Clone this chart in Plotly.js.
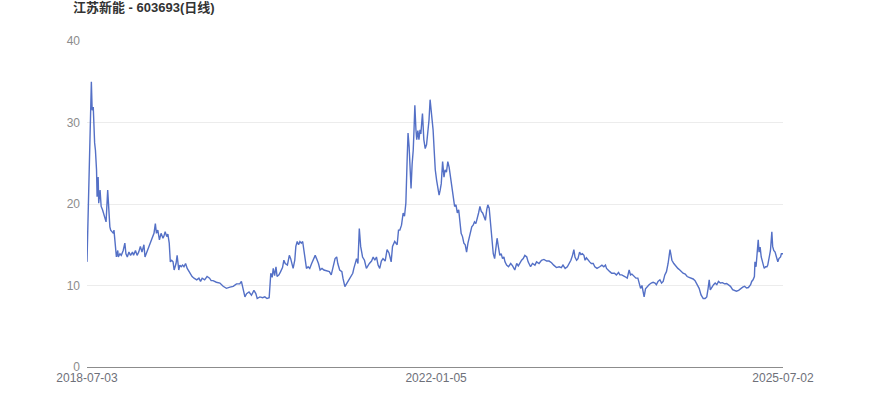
<!DOCTYPE html>
<html>
<head>
<meta charset="utf-8">
<script src="https://cdn.plot.ly/plotly-3.0.1.min.js"></script>
<style>html,body{margin:0;padding:0;background:#fff;}#chart{width:870px;height:417px;}</style>
</head>
<body>
<div id="chart"></div>
<script>
const chartTitle = '江苏新能 - 603693(日线)';
const tickDates = ['2018-07-03', '2022-01-05', '2025-07-02'];
const dates = [
'2018-07-03','2018-07-19','2018-07-22','2018-07-26','2018-07-31','2018-08-03','2018-08-07','2018-08-09','2018-08-13','2018-08-15',
'2018-08-20','2018-08-24','2018-08-29','2018-09-06','2018-09-11','2018-09-17','2018-09-20','2018-09-25','2018-09-28','2018-10-08',
'2018-10-10','2018-10-15','2018-10-19','2018-10-24','2018-10-26','2018-11-01','2018-11-06','2018-11-13','2018-11-19','2018-11-23',
'2018-11-28','2018-12-04','2018-12-10','2018-12-17','2018-12-21','2018-12-28','2019-01-03','2019-01-09','2019-01-15','2019-01-21',
'2019-01-28','2019-02-01','2019-02-11','2019-02-15','2019-02-21','2019-02-27','2019-03-06','2019-03-11','2019-03-15','2019-03-20',
'2019-03-26','2019-04-01','2019-04-08','2019-04-11','2019-04-16','2019-04-22','2019-04-26','2019-05-01','2019-05-05','2019-05-10',
'2019-05-15','2019-05-19','2019-05-26','2019-05-30','2019-06-05','2019-06-09','2019-06-14','2019-06-19','2019-06-24','2019-06-30',
'2019-07-06','2019-07-12','2019-07-18','2019-07-24','2019-07-31','2019-08-10','2019-08-18','2019-08-24','2019-08-30','2019-09-08',
'2019-09-17','2019-09-26','2019-10-02','2019-10-09','2019-10-21','2019-11-03','2019-11-15','2019-11-27','2019-12-10','2019-12-22',
'2020-01-03','2020-01-15','2020-01-21','2020-01-23','2020-02-03','2020-02-09','2020-02-18','2020-02-27','2020-03-07','2020-03-14',
'2020-03-19','2020-03-29','2020-04-08','2020-04-16','2020-04-24','2020-05-02','2020-05-08','2020-05-13','2020-05-17','2020-05-22',
'2020-05-27','2020-05-31','2020-06-07','2020-06-13','2020-06-20','2020-06-25','2020-06-30','2020-07-08','2020-07-15','2020-07-20',
'2020-07-25','2020-07-29','2020-08-04','2020-08-08','2020-08-13','2020-08-18','2020-08-23','2020-08-28','2020-09-02','2020-09-07',
'2020-09-11','2020-09-16','2020-09-22','2020-09-28','2020-10-05','2020-10-11','2020-10-18','2020-10-23','2020-10-30','2020-11-05',
'2020-11-12','2020-11-19','2020-11-29','2020-12-09','2020-12-16','2020-12-23','2020-12-30','2021-01-05','2021-01-09','2021-01-16',
'2021-01-24','2021-01-28','2021-02-04','2021-02-10','2021-02-18','2021-02-25','2021-03-05','2021-03-09','2021-03-14','2021-03-19',
'2021-03-24','2021-03-29','2021-04-03','2021-04-10','2021-04-17','2021-04-24','2021-05-05','2021-05-13','2021-05-19','2021-05-25',
'2021-05-31','2021-06-06','2021-06-12','2021-06-18','2021-06-24','2021-07-02','2021-07-09','2021-07-16','2021-07-24','2021-07-29',
'2021-08-06','2021-08-10','2021-08-15','2021-08-20','2021-08-25','2021-08-31','2021-09-06','2021-09-11','2021-09-16','2021-09-21',
'2021-09-24','2021-09-28','2021-10-02','2021-10-05','2021-10-09','2021-10-13','2021-10-16','2021-10-19','2021-10-23','2021-10-26',
'2021-10-30','2021-11-03','2021-11-07','2021-11-10','2021-11-14','2021-11-16','2021-11-21','2021-11-26','2021-12-01','2021-12-06',
'2021-12-10','2021-12-14','2021-12-18','2021-12-21','2021-12-25','2021-12-29','2022-01-02','2022-01-07','2022-01-12','2022-01-16',
'2022-01-20','2022-01-24','2022-01-29','2022-02-03','2022-02-07','2022-02-12','2022-02-17','2022-02-22','2022-02-27','2022-03-04',
'2022-03-09','2022-03-14','2022-03-19','2022-03-24','2022-03-29','2022-04-03','2022-04-07','2022-04-12','2022-04-17','2022-04-22',
'2022-04-27','2022-05-02','2022-05-07','2022-05-12','2022-05-16','2022-05-21','2022-05-26','2022-05-31','2022-06-05','2022-06-10',
'2022-06-15','2022-06-20','2022-06-25','2022-06-29','2022-07-05','2022-07-10','2022-07-14','2022-07-19','2022-07-24','2022-07-29',
'2022-08-03','2022-08-08','2022-08-12','2022-08-17','2022-08-22','2022-08-27','2022-09-01','2022-09-06','2022-09-11','2022-09-15',
'2022-09-21','2022-09-28','2022-10-06','2022-10-13','2022-10-21','2022-10-28','2022-11-03','2022-11-09','2022-11-15','2022-11-21',
'2022-11-27','2022-12-04','2022-12-09','2022-12-18','2022-12-25','2023-01-03','2023-01-09','2023-01-18','2023-01-27','2023-02-05',
'2023-02-15','2023-02-24','2023-03-05','2023-03-13','2023-03-23','2023-04-02','2023-04-10','2023-04-16','2023-04-24','2023-05-02',
'2023-05-09','2023-05-15','2023-05-21','2023-05-26','2023-05-30','2023-06-05','2023-06-10','2023-06-16','2023-06-21','2023-06-26',
'2023-07-02','2023-07-06','2023-07-11','2023-07-17','2023-07-23','2023-07-29','2023-08-05','2023-08-11','2023-08-19','2023-08-29',
'2023-09-06','2023-09-13','2023-09-19','2023-09-23','2023-09-28','2023-10-05','2023-10-12','2023-10-22','2023-10-29','2023-11-06',
'2023-11-11','2023-11-18','2023-11-29','2023-12-08','2023-12-15','2023-12-20','2023-12-25','2024-01-02','2024-01-09','2024-01-16',
'2024-01-21','2024-01-26','2024-01-31','2024-02-04','2024-02-08','2024-02-13','2024-02-19','2024-02-26','2024-03-05','2024-03-12',
'2024-03-19','2024-03-24','2024-03-30','2024-04-06','2024-04-12','2024-04-18','2024-04-24','2024-04-30','2024-05-06','2024-05-10',
'2024-05-13','2024-05-17','2024-05-20','2024-05-27','2024-06-04','2024-06-11','2024-06-18','2024-06-24','2024-06-30','2024-07-08',
'2024-07-15','2024-07-22','2024-07-30','2024-08-06','2024-08-13','2024-08-20','2024-08-28','2024-09-04','2024-09-12','2024-09-19',
'2024-09-25','2024-09-30','2024-10-04','2024-10-08','2024-10-14','2024-10-20','2024-10-26','2024-11-01','2024-11-07','2024-11-14',
'2024-11-22','2024-11-29','2024-12-07','2024-12-14','2024-12-21','2024-12-29','2025-01-05','2025-01-12','2025-01-20','2025-01-27',
'2025-02-04','2025-02-11','2025-02-18','2025-02-25','2025-03-05','2025-03-09','2025-03-14','2025-03-19','2025-03-21','2025-03-25',
'2025-03-29','2025-04-02','2025-04-05','2025-04-09','2025-04-13','2025-04-16','2025-04-20','2025-04-24','2025-04-29','2025-05-04',
'2025-05-07','2025-05-12','2025-05-17','2025-05-22','2025-05-25','2025-05-29','2025-06-03','2025-06-08','2025-06-13','2025-06-17',
'2025-06-23','2025-06-26','2025-07-02'
];
const closePrices = [
12.9,35.0,31.5,31.9,27.5,26.6,24.2,20.9,23.3,20.1,
21.7,19.7,19.3,18.3,17.8,21.7,19.3,17.2,16.8,16.4,
16.8,14.4,13.5,14.3,13.5,13.9,13.7,14.3,15.2,13.9,
13.5,14.1,13.7,14.1,13.7,14.3,13.7,14.1,14.8,14.1,
15.0,13.5,14.3,14.8,15.2,15.8,16.4,17.6,16.4,16.8,
15.6,16.4,15.8,16.0,16.6,16.0,16.3,15.2,12.9,13.1,
12.9,11.9,12.7,13.7,11.9,12.5,12.3,12.5,12.3,12.7,
12.1,11.7,11.5,11.1,10.9,10.7,10.9,10.5,10.9,10.7,
11.1,10.9,10.6,10.6,10.4,10.3,9.9,9.65,9.8,9.9,
10.2,10.2,10.5,10.2,8.6,9.0,9.2,8.8,9.4,9.0,
8.4,8.6,8.5,8.6,8.4,8.5,11.5,11.0,12.1,11.2,
12.3,11.1,11.3,11.7,12.2,13.1,12.7,12.5,13.7,13.3,
12.7,12.1,13.1,14.8,15.4,15.0,15.4,15.2,15.4,14.4,
13.1,12.1,12.3,12.1,12.7,13.1,13.7,13.3,12.7,11.9,
12.1,11.9,11.8,11.7,11.3,12.3,13.3,13.5,12.7,11.9,
11.7,10.9,9.85,10.2,10.7,11.1,11.5,12.1,12.7,13.3,
12.7,17.0,14.8,13.5,13.1,12.1,12.7,13.0,13.5,13.1,
13.5,12.5,12.1,13.0,13.3,13.0,14.4,14.0,12.9,14.8,
15.4,15.2,15.0,16.8,16.8,17.4,18.9,18.5,20.1,25.8,
28.7,27.0,24.9,21.9,24.9,26.6,29.1,32.1,29.1,27.9,
29.0,27.9,29.1,28.6,30.3,31.1,27.9,26.8,27.3,28.6,
30.3,32.8,31.5,30.3,29.1,26.6,24.2,22.9,21.7,21.1,
21.7,22.5,25.2,23.3,24.2,23.9,25.2,24.5,23.3,22.1,
20.5,19.7,19.9,18.9,19.3,17.6,16.4,16.0,15.2,15.0,
14.1,15.2,16.0,17.0,17.2,17.4,17.8,17.6,18.5,18.9,
19.7,19.1,18.9,18.5,18.0,19.3,19.9,19.5,17.6,15.6,
13.9,13.3,14.3,15.8,14.7,13.7,13.9,13.3,13.5,12.9,
12.5,12.3,12.7,12.4,11.9,12.7,12.4,12.8,13.1,13.3,
13.7,13.5,12.9,12.3,12.7,12.5,12.9,12.7,13.1,13.2,
13.0,13.0,12.8,12.5,12.2,12.3,12.2,12.5,12.1,12.3,
12.7,13.1,13.7,14.4,13.5,13.1,13.3,14.1,13.8,13.9,
13.7,13.1,13.4,13.1,12.9,12.7,12.7,12.3,12.1,12.3,
12.5,12.3,12.5,12.1,11.9,11.7,11.5,11.5,11.3,11.6,
11.3,11.3,11.1,10.9,11.9,11.3,11.4,11.1,10.9,10.9,
10.3,9.65,10.0,9.4,8.6,9.6,9.85,10.1,10.3,10.4,
10.3,10.1,10.5,10.7,10.3,10.5,11.3,11.7,12.7,13.5,
14.4,13.7,13.1,12.7,12.3,12.1,11.9,11.7,11.5,11.4,
11.1,11.0,10.9,10.8,10.6,10.1,9.65,8.85,8.4,8.4,
8.6,9.65,10.7,9.45,9.85,10.1,10.3,10.1,10.5,10.3,
10.35,10.2,10.25,10.1,9.9,9.5,9.4,9.3,9.4,9.6,
9.8,9.9,9.7,9.75,10.1,10.5,10.7,11.1,12.9,12.3,
13.9,15.6,14.1,14.7,13.5,13.1,12.3,12.1,12.3,12.3,
12.5,13.5,14.3,16.6,14.8,14.3,14.1,13.5,12.9,13.3,
13.5,13.9,13.9
];

const trace = {
  x: dates,
  y: closePrices,
  type: 'scatter',
  mode: 'lines',
  line: {color: '#5470c6', width: 1.4},
  hoverinfo: 'x+y'
};

const layout = {
  width: 870,
  height: 417,
  margin: {l: 87, r: 87, t: 41, b: 50},
  paper_bgcolor: '#ffffff',
  plot_bgcolor: '#ffffff',
  font: {family: '"Liberation Sans", Arial, "Noto Sans CJK SC", sans-serif', size: 12, color: '#6e7079'},
  title: {
    text: '<b>' + chartTitle + '</b>',
    x: 73 / 870, xref: 'container', xanchor: 'left',
    y: 1, yref: 'container', yanchor: 'top',
    pad: {t: 3},
    font: {family: '"Liberation Sans", "Noto Sans CJK SC", sans-serif', size: 13, color: '#333333'}
  },
  showlegend: false,
  xaxis: {
    type: 'date',
    range: [tickDates[0], tickDates[2]],
    tickmode: 'array',
    tickvals: tickDates,
    ticktext: tickDates,
    showgrid: false,
    zeroline: false,
    showline: true,
    linecolor: '#8c8c8c',
    linewidth: 1,
    ticks: '',
    tickfont: {size: 12, color: '#6e7079'}
  },
  yaxis: {
    range: [0, 40],
    tickmode: 'linear',
    tick0: 0,
    dtick: 10,
    showgrid: true,
    gridcolor: '#ececec',
    gridwidth: 1,
    zeroline: false,
    showline: false,
    ticks: '',
    ticklabelstandoff: 6,
    tickfont: {size: 12, color: '#8c8c8c'}
  }
};

Plotly.newPlot('chart', [trace], layout, {displayModeBar: false, staticPlot: true});
</script>
</body>
</html>
